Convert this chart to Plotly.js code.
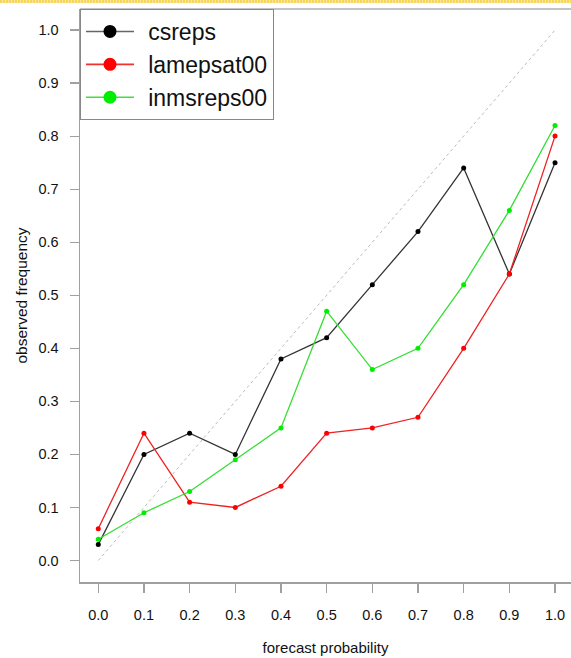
<!DOCTYPE html>
<html>
<head>
<meta charset="utf-8">
<script src="https://cdn.plot.ly/plotly-3.0.1.min.js"></script>
<style>
html,body{margin:0;padding:0;background:#fff;}
#strip{position:absolute;left:0;top:0;width:571px;height:3px;
 background:repeating-linear-gradient(90deg,#f6d55c 0px,#f6d55c 2px,#fbe7a1 2px,#fbe7a1 3px);z-index:5;}
#chart{width:571px;height:658px;}
</style>
</head>
<body>
<div id="strip"></div>
<div id="chart"></div>
<script>
var forecastProb = [0.0,0.1,0.2,0.3,0.4,0.5,0.6,0.7,0.8,0.9,1.0];
var csreps      = [0.03,0.20,0.24,0.20,0.38,0.42,0.52,0.62,0.74,0.54,0.75];
var lamepsat00  = [0.06,0.24,0.11,0.10,0.14,0.24,0.25,0.27,0.40,0.54,0.80];
var inmsreps00  = [0.04,0.09,0.13,0.19,0.25,0.47,0.36,0.40,0.52,0.66,0.82];
var seriesNames = ['csreps','lamepsat00','inmsreps00'];
var diagX = [0,1];
var diagY = [0,1];
var tickVals = [0,0.1,0.2,0.3,0.4,0.5,0.6,0.7,0.8,0.9,1.0];
var tickText = ["0.0","0.1","0.2","0.3","0.4","0.5","0.6","0.7","0.8","0.9","1.0"];

var FONT = "Liberation Sans, Arial, Helvetica, sans-serif";
var lineColors = ['#333333','#ee2222','#33dd33'];
var markerColors = ['#000000','#ff0000','#00ee00'];
var legendLineColors = ['#666666','#ee3333','#44dd44'];
var allY = [csreps, lamepsat00, inmsreps00];

var traces = [
  {x: diagX, y: diagY, type:'scatter', mode:'lines', line:{color:'#aaaaaa', width:0.8, dash:'dot'}, showlegend:false, hoverinfo:'skip'}
];
allY.forEach(function(y, i){
  traces.push({x: forecastProb, y: y, name: seriesNames[i], type: 'scatter', mode: 'lines+markers',
    line: {color: lineColors[i], width: 1.3},
    marker: {color: markerColors[i], size: 5}, showlegend: false});
});
// legend-only entries (larger symbols, as in the reference key)
allY.forEach(function(y, i){
  traces.push({x: [null], y: [null], name: '\u2009\u2009' + seriesNames[i], type: 'scatter', mode: 'lines+markers',
    line: {color: legendLineColors[i], width: 1.6},
    marker: {color: markerColors[i], size: 13}, showlegend: true});
});

var layout = {
  width: 571, height: 658,
  margin: {l: 80, r: 0, t: 9, b: 76},
  paper_bgcolor: '#fff', plot_bgcolor: '#fff',
  font: {family: FONT, color: '#111'},
  showlegend: true,
  legend: {x: 0, y: 1, xanchor: 'left', yanchor: 'top',
    bordercolor: '#888', borderwidth: 1, bgcolor: '#fff',
    font: {size: 23, family: FONT, color: '#111'},
    itemwidth: 48, tracegroupgap: 0},
  xaxis: {range: [-0.040, 1.035], tickvals: tickVals, ticktext: tickText,
    showgrid: false, zeroline: false, showline: true, linecolor: '#a0a0a0', linewidth: 1.5,
    ticks: 'outside', ticklen: 9, tickcolor: '#a0a0a0', tickwidth: 1.2,
    tickfont: {size: 14.5, family: FONT, color: '#111'}, ticklabelstandoff: 10,
    title: {text: 'forecast probability', font: {size: 15, family: FONT, color: '#111'}, standoff: 20}},
  yaxis: {range: [-0.0405, 1.0396], tickvals: tickVals, ticktext: tickText,
    showgrid: false, zeroline: false, showline: true, linecolor: '#a0a0a0', linewidth: 1.5,
    ticks: 'outside', ticklen: 9, tickcolor: '#a0a0a0', tickwidth: 1.2,
    tickfont: {size: 14.5, family: FONT, color: '#111'}, ticklabelstandoff: 8,
    title: {text: 'observed frequency', font: {size: 15.5, family: FONT, color: '#111'}, standoff: 7}},
  shapes: [
    {type:'line', xref:'paper', yref:'paper', x0:0, x1:1, y0:1, y1:1, line:{color:'#888', width:1.2}}
  ]
};

Plotly.newPlot('chart', traces, layout, {displayModeBar: false, staticPlot: true});
</script>
</body>
</html>
